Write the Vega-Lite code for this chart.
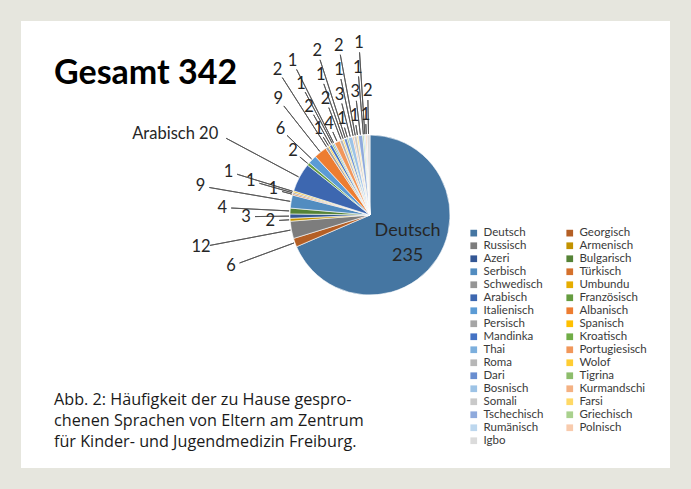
{
  "$schema": "https://vega.github.io/schema/vega-lite/v6.json",
  "width": 649,
  "height": 447,
  "autosize": {"type": "none"},
  "padding": 21,
  "background": "#e6e6de",
  "view": {"fill": "white", "stroke": null},
  "config": {
    "view": {"fill": "white", "stroke": null},
    "legend": {
      "orient": "none",
      "legendX": 447,
      "legendY": 206,
      "columns": 2,
      "direction": "horizontal",
      "columnPadding": 20,
      "rowPadding": 0,
      "symbolLimit": 0,
      "symbolType": "square",
      "symbolSize": 45,
      "symbolStrokeWidth": 0,
      "labelFont": "Lato",
      "labelFontSize": 11.5,
      "labelColor": "#3a3a3a",
      "labelOffset": 4,
      "padding": 0
    }
  },
  "title": {
    "text": "Gesamt 342",
    "subtitle": ["Abb. 2: Häufigkeit der zu Hause gespro-", "chenen Sprachen von Eltern am Zentrum", "für Kinder- und Jugendmedizin Freiburg."],
    "anchor": "start",
    "frame": "group",
    "orient": "top",
    "font": "Lato",
    "fontSize": 34,
    "fontWeight": "bold",
    "color": "#000000",
    "dx": 33,
    "offset": -456,
    "baseline": "alphabetic",
    "subtitleFont": "Open Sans",
    "subtitleFontSize": 16.2,
    "subtitleColor": "#1a1a1a",
    "subtitlePadding": 287,
    "subtitleLineHeight": 21
  },
  "data": {
    "values": [
      {"lang": "Deutsch", "n": 235},
      {"lang": "Georgisch", "n": 6},
      {"lang": "Russisch", "n": 12},
      {"lang": "Armenisch", "n": 2},
      {"lang": "Azeri", "n": 3},
      {"lang": "Bulgarisch", "n": 4},
      {"lang": "Serbisch", "n": 9},
      {"lang": "Türkisch", "n": 1},
      {"lang": "Schwedisch", "n": 1},
      {"lang": "Umbundu", "n": 1},
      {"lang": "Arabisch", "n": 20},
      {"lang": "Französisch", "n": 2},
      {"lang": "Italienisch", "n": 6},
      {"lang": "Albanisch", "n": 9},
      {"lang": "Persisch", "n": 2},
      {"lang": "Spanisch", "n": 1},
      {"lang": "Mandinka", "n": 2},
      {"lang": "Kroatisch", "n": 1},
      {"lang": "Thai", "n": 1},
      {"lang": "Portugiesisch", "n": 4},
      {"lang": "Roma", "n": 2},
      {"lang": "Wolof", "n": 1},
      {"lang": "Dari", "n": 2},
      {"lang": "Tigrina", "n": 1},
      {"lang": "Bosnisch", "n": 3},
      {"lang": "Kurmandschi", "n": 1},
      {"lang": "Somali", "n": 2},
      {"lang": "Farsi", "n": 1},
      {"lang": "Tschechisch", "n": 3},
      {"lang": "Griechisch", "n": 1},
      {"lang": "Rumänisch", "n": 1},
      {"lang": "Polnisch", "n": 1},
      {"lang": "Igbo", "n": 2}
    ]
  },
  "transform": [
    {"window": [{"op": "row_number", "as": "idx"}]},
    {"window": [{"op": "sum", "field": "n", "as": "cum"}], "sort": [{"field": "idx"}], "frame": [null, 0]},
    {"calculate": "datum.cum - datum.n / 2", "as": "mid"},
    {"calculate": "datum.idx % 4", "as": "ring"}
  ],
  "layer": [
    {
      "mark": {"type": "arc", "outerRadius": 80, "x": 349, "y": 194, "stroke": "white", "strokeWidth": 0.6},
      "encoding": {
        "theta": {"field": "n", "type": "quantitative", "stack": true, "scale": {"domain": [0, 343]}},
        "order": {"field": "idx", "type": "quantitative"},
        "color": {
          "field": "lang",
          "type": "nominal",
          "sort": null,
          "title": null,
          "scale": {
            "domain": ["Deutsch", "Georgisch", "Russisch", "Armenisch", "Azeri", "Bulgarisch", "Serbisch", "Türkisch", "Schwedisch", "Umbundu", "Arabisch", "Französisch", "Italienisch", "Albanisch", "Persisch", "Spanisch", "Mandinka", "Kroatisch", "Thai", "Portugiesisch", "Roma", "Wolof", "Dari", "Tigrina", "Bosnisch", "Kurmandschi", "Somali", "Farsi", "Tschechisch", "Griechisch", "Rumänisch", "Polnisch", "Igbo"],
            "range": ["#4576A2", "#B45F25", "#7D7D7D", "#C29200", "#345795", "#558336", "#528CC0", "#D5712C", "#959595", "#E6AD00", "#3D67B0", "#659C40", "#5B9BD5", "#ED7D31", "#A5A5A5", "#FFC000", "#4472C4", "#70AD47", "#7CAFDD", "#F1975A", "#B7B7B7", "#FFCD33", "#698ED0", "#8DBD6C", "#9DC3E6", "#F4B183", "#C9C9C9", "#FFD966", "#8FAADC", "#A9D18E", "#BDD7EE", "#F8CBAD", "#DBDBDB"]
          }
        }
      }
    },
    {
      "transform": [{"filter": "datum.lang != 'Deutsch'"}],
      "mark": {"type": "arc", "filled": false, "stroke": "#555555", "strokeWidth": 0.9, "x": 349, "y": 194, "radiusOffset": -9},
      "encoding": {
        "theta": {"field": "mid", "type": "quantitative", "stack": null, "scale": {"domain": [0, 343]}},
        "theta2": {"field": "mid"},
        "radius": {"field": "ring", "type": "quantitative", "scale": {"type": "linear", "zero": false, "domain": [0, 3], "range": [100, 172]}},
        "radius2": {"value": 81}
      }
    },
    {
      "transform": [{"filter": "datum.lang != 'Deutsch' && datum.lang != 'Arabisch'"}],
      "mark": {"type": "text", "x": 349, "y": 194, "font": "Lato", "fontSize": 16.5, "color": "#262626", "align": "center", "baseline": "middle"},
      "encoding": {
        "theta": {"field": "mid", "type": "quantitative", "stack": null, "scale": {"domain": [0, 343]}},
        "radius": {"field": "ring", "type": "quantitative", "scale": {"type": "linear", "zero": false, "domain": [0, 3], "range": [100, 172]}},
        "text": {"field": "n", "type": "quantitative"}
      }
    },
    {
      "transform": [{"filter": "datum.lang == 'Arabisch'"}, {"calculate": "datum.lang + ' ' + datum.n", "as": "label"}],
      "mark": {"type": "text", "x": 349, "y": 194, "font": "Lato", "fontSize": 16.5, "color": "#262626", "align": "right", "baseline": "middle"},
      "encoding": {
        "theta": {"field": "mid", "type": "quantitative", "stack": null, "scale": {"domain": [0, 343]}},
        "radius": {"field": "ring", "type": "quantitative", "scale": {"type": "linear", "zero": false, "domain": [0, 3], "range": [100, 172]}},
        "text": {"field": "label", "type": "nominal"}
      }
    },
    {
      "transform": [{"filter": "datum.lang == 'Deutsch'"}, {"calculate": "datum.lang + '\\n' + datum.n", "as": "label"}],
      "mark": {"type": "text", "x": 349, "y": 194, "radius": 45, "dy": -9, "font": "Lato", "fontSize": 18, "color": "#262626", "align": "center", "baseline": "middle", "lineBreak": "\n", "lineHeight": 25},
      "encoding": {
        "theta": {"field": "mid", "type": "quantitative", "stack": null, "scale": {"domain": [0, 343]}},
        "text": {"field": "label", "type": "nominal"}
      }
    }
  ]
}
